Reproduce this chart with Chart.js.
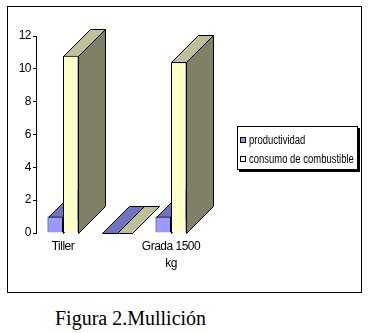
<!DOCTYPE html>
<html>
<head>
<meta charset="utf-8">
<script src="https://cdn.jsdelivr.net/npm/chart.js@4"></script>
<style>
    body { margin: 0; background: #fff; width: 370px; height: 333px; position: relative; overflow: hidden; }
    #frame { position: absolute; left: 7px; top: 6px; width: 355px; height: 287px; border: 1px solid #000; box-sizing: border-box; }
    #chart { position: absolute; left: 0; top: 0; }
    #legend {
        position: absolute; left: 237px; top: 126px; width: 121px; height: 44px;
        border: 1px solid #000; box-sizing: border-box; background: #fff;
        box-shadow: 2px 2px 0 #000;
        font-family: "Liberation Sans", Arial, sans-serif;
        font-size: 12px; color: #000; padding-top: 3px;
        white-space: nowrap;
    }
    .item { display: flex; align-items: center; height: 19px; padding-left: 2px; }
    .swatch { width: 6px; height: 6px; border: 1px solid #000; box-sizing: border-box; margin-right: 3px; flex: none; }
    .text { display: inline-block; transform: scaleX(0.79); transform-origin: left center; }
    #caption {
        position: absolute; left: 55px; top: 308px; line-height: 1; white-space: nowrap;
        font-family: "Liberation Serif", "Times New Roman", serif; font-size: 20px; color: #000;
    }
</style>
</head>
<body>
<div id="frame"></div>
<canvas id="chart" width="370" height="300"></canvas>
<div id="legend"></div>
<div id="caption">Figura 2.Mullición</div>
<script>
    // data
    const categories = ["Tiller", "", ["Grada 1500", "kg"]];
    const productividad = [1, 0, 1];
    const consumo = [10.8, 0, 10.4];
    const yTicks = [0, 2, 4, 6, 8, 10, 12];

    const sans = "'Liberation Sans', Arial, sans-serif";

    // front / top / side shades like Excel's 3D columns
    const shades = [
        { front: "#9999FF", top: "#7373BF", side: "#4D4D80" },
        { front: "#FFFFCC", top: "#BFBF99", side: "#808066" },
    ];
    const DEPTH = 27;

    // slightly tighter lettering, the original uses a narrow screen font
    const narrowText = {
        id: "narrowText",
        beforeDraw(chart) {
            chart.ctx.letterSpacing = "-0.5px";
        },
    };

    // draws the top and right faces behind every column
    const depthPlugin = {
        id: "depth",
        beforeDatasetsDraw(chart) {
            const ctx = chart.ctx;
            const n = chart.data.labels.length;
            ctx.save();
            ctx.lineWidth = 1;
            ctx.strokeStyle = "#000";
            for (let i = 0; i < n; i++) {
                chart.data.datasets.forEach((ds, d) => {
                    const el = chart.getDatasetMeta(d).data[i];
                    const { x, y, base, width } = el.getProps(["x", "y", "base", "width"], true);
                    const l = Math.round(x - width / 2) + 0.5;
                    const r = Math.round(x + width / 2) + 0.5;
                    const t = Math.round(y) + 0.5;
                    const b = Math.round(base) + 0.5;
                    const poly = (pts, fill) => {
                        ctx.beginPath();
                        ctx.moveTo(pts[0][0], pts[0][1]);
                        pts.slice(1).forEach((p) => ctx.lineTo(p[0], p[1]));
                        ctx.closePath();
                        ctx.fillStyle = fill;
                        ctx.fill();
                        ctx.stroke();
                    };
                    // side
                    poly([[r, t], [r + DEPTH, t - DEPTH], [r + DEPTH, b - DEPTH], [r, b]], shades[d].side);
                    // top
                    poly([[l, t], [r, t], [r + DEPTH, t - DEPTH], [l + DEPTH, t - DEPTH]], shades[d].top);
                });
            }
            ctx.restore();
        },
    };

    const chart = new Chart(document.getElementById("chart"), {
        type: "bar",
        data: {
            labels: categories,
            datasets: [
                {
                    label: "productividad",
                    data: productividad,
                    backgroundColor: shades[0].front,
                    borderColor: "#000",
                    borderWidth: 1,
                },
                {
                    label: "consumo de combustible",
                    data: consumo,
                    backgroundColor: shades[1].front,
                    borderColor: "#000",
                    borderWidth: 1,
                },
            ],
        },
        options: {
            responsive: false,
            devicePixelRatio: 1,
            animation: false,
            categoryPercentage: 0.574,
            barPercentage: 1,
            layout: { padding: { top: 36, right: 172, bottom: 0, left: 0 } },
            plugins: {
                legend: { display: false },
                tooltip: { enabled: false },
            },
            scales: {
                x: {
                    grid: { display: false, drawTicks: false },
                    border: { display: false },
                    ticks: {
                        color: "#000",
                        maxRotation: 0,
                        autoSkip: false,
                        padding: 5,
                        font: { family: sans, size: 12, lineHeight: 1.4 },
                    },
                    afterFit: (s) => { s.height = 67; },
                },
                y: {
                    min: 0,
                    max: 12,
                    afterBuildTicks: (s) => { s.ticks = yTicks.map((v) => ({ value: v })); },
                    grid: {
                        drawOnChartArea: false,
                        tickLength: 3,
                        color: "#000",
                    },
                    border: { display: true, color: "#000" },
                    ticks: {
                        color: "#000",
                        padding: 2,
                        font: { family: sans, size: 12 },
                    },
                    afterFit: (s) => { s.width = 36; },
                },
            },
        },
        plugins: [narrowText, depthPlugin],
    });

    // legend built from the chart's datasets
    const legend = document.getElementById("legend");
    chart.data.datasets.forEach((ds) => {
        const item = document.createElement("div");
        item.className = "item";
        item.innerHTML = `<span class="swatch" style="background:${ds.backgroundColor}"></span><span class="text">${ds.label}</span>`;
        legend.appendChild(item);
    });
</script>
</body>
</html>
